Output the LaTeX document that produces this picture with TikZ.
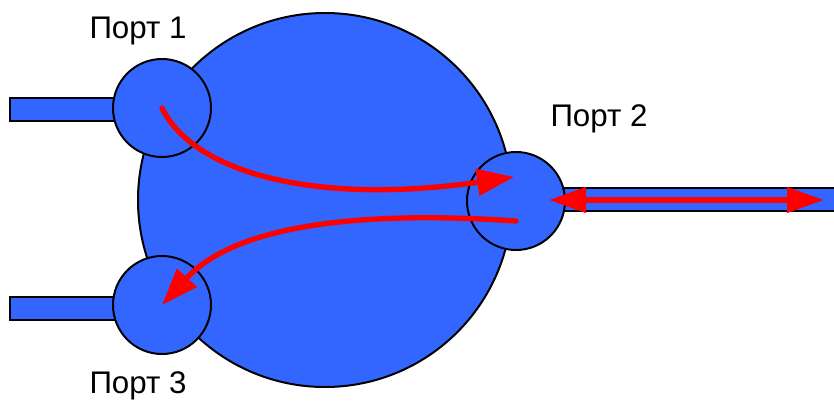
\documentclass[tikz,border=0pt]{standalone}
\usepackage{fontspec}
\setmainfont{Liberation Sans}
\usetikzlibrary{arrows.meta}
\definecolor{portblue}{RGB}{51,102,255}
\definecolor{flowred}{RGB}{255,0,0}
\tikzset{body/.style={draw,circle,fill=portblue,line width=1.7pt,inner sep=0pt,outer sep=0pt},port/.style={body,minimum size=2.94cm},stub/.style={draw,rectangle,fill=portblue,line width=1.7pt,inner sep=0pt,outer sep=0pt,minimum height=0.69cm},flow/.style={-{Triangle[length=1.11cm,width=0.78cm]},flowred,line width=0.16cm,line cap=round},both/.style={{Triangle[length=1.11cm,width=0.74cm]}-{Triangle[length=1.11cm,width=0.74cm]},flowred,line width=0.16cm},lbl/.style={font=\fontsize{26.7}{30}\selectfont,inner sep=0pt}}

\begin{document}
\begin{tikzpicture}
\useasboundingbox (0,0) rectangle (25.02,-12.03);
\node[body,minimum size=11.22cm] (circulator) at (9.75,-6.0) {};
\node[stub,minimum width=3.15cm] (line1) at (1.88,-3.28) {};
\node[stub,minimum width=3.15cm] (line3) at (1.88,-9.25) {};
\node[stub,minimum width=8.19cm] (line2) at (20.985,-5.98) {};
\node[port] (port1) at (4.86,-3.24) {};
\node[port] (port2) at (15.48,-6.03) {};
\node[port] (port3) at (4.86,-9.15) {};
\coordinate (tip1) at (15.42,-5.31);
\coordinate (start2) at (15.48,-6.63);
\coordinate (left2) at (16.47,-6.0);
\coordinate (right2) at (24.72,-6.0);
\draw[flow] (port1.center) .. controls (5.85,-5.25) and (9.6,-6.15) .. (tip1);
\draw[flow] (start2) .. controls (11.4,-6.35) and (7.2,-6.6) .. (port3.center);
\draw[both] (left2)--(right2);
\node[lbl] (label1) at (4.14,-0.93) {Порт 1};
\node[lbl] (label2) at (17.97,-3.56) {Порт 2};
\node[lbl] (label3) at (4.14,-11.56) {Порт 3};
\end{tikzpicture}
\end{document}
